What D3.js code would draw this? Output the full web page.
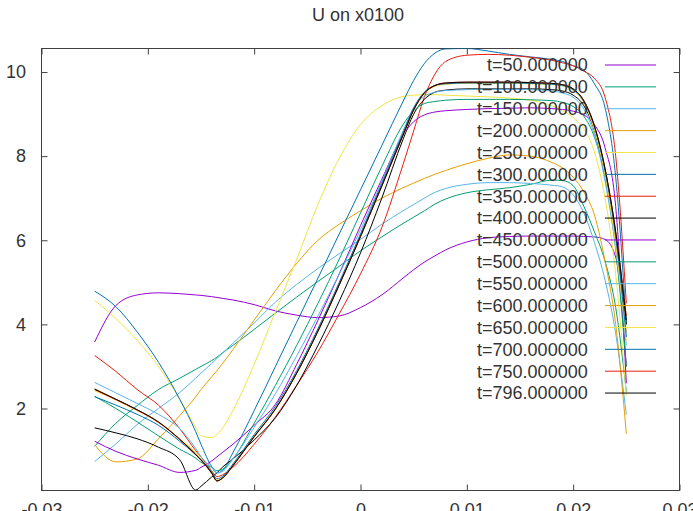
<!DOCTYPE html>
<html>
<head>
<meta charset="utf-8">
<script src="https://cdn.jsdelivr.net/npm/d3@7"></script>
<style>
  body { margin: 0; background: #fff; }
  svg { display: block; }
  text { font-family: "Liberation Sans", Arial, sans-serif; fill: #333; }
</style>
</head>
<body>
<svg id="chart" width="693" height="511"></svg>
<script>
// Sample positions across the channel (x) shared by every profile
const xs = [-0.025, -0.023, -0.021, -0.019, -0.017, -0.0155, -0.015, -0.014, -0.0135, -0.013,
            -0.012, -0.010, -0.008, -0.006, -0.004, -0.002, 0, 0.002, 0.004, 0.005,
            0.006, 0.007, 0.008, 0.010, 0.012, 0.014, 0.016, 0.018, 0.019, 0.020,
            0.021, 0.022, 0.023, 0.024, 0.025];

// U profiles at each output time
const u50  = [3.58, 4.45, 4.70, 4.75, 4.73, 4.70, 4.69, 4.66, 4.64, 4.62, 4.58, 4.47, 4.32, 4.22, 4.16, 4.20, 4.40, 4.70, 5.10, 5.30, 5.48, 5.63, 5.77, 5.96, 6.06, 6.09, 6.10, 6.10, 6.10, 6.10, 6.09, 6.08, 6.02, 5.60, 3.00];
const u100 = [1.10, 1.65, 2.07, 2.45, 2.72, 2.93, 3.00, 3.14, 3.22, 3.32, 3.50, 3.88, 4.27, 4.65, 5.02, 5.38, 5.75, 6.08, 6.40, 6.55, 6.70, 6.86, 6.98, 7.13, 7.20, 7.25, 7.33, 7.43, 7.42, 7.30, 6.81, 6.20, 5.50, 4.40, 2.40];
const u150 = [0.74, 1.16, 1.62, 2.00, 2.38, 2.72, 2.84, 3.07, 3.19, 3.31, 3.55, 4.03, 4.53, 4.95, 5.33, 5.68, 6.02, 6.38, 6.70, 6.85, 7.00, 7.14, 7.23, 7.33, 7.37, 7.37, 7.35, 7.31, 7.27, 7.08, 6.65, 5.95, 5.05, 3.78, 1.85];
const u200 = [1.14, 0.73, 0.80, 1.28, 1.83, 2.28, 2.45, 2.75, 2.90, 3.06, 3.40, 4.10, 4.80, 5.45, 6.00, 6.38, 6.70, 7.00, 7.25, 7.36, 7.47, 7.57, 7.66, 7.82, 7.95, 8.03, 8.00, 7.85, 7.72, 7.50, 7.15, 6.60, 5.50, 4.00, 1.40];
const u250 = [4.57, 4.14, 3.62, 3.00, 2.22, 1.55, 1.35, 1.31, 1.38, 1.52, 1.95, 3.05, 4.30, 5.55, 6.85, 7.95, 8.75, 9.20, 9.42, 9.45, 9.46, 9.46, 9.45, 9.43, 9.41, 9.38, 9.33, 9.20, 9.08, 8.92, 8.65, 8.10, 7.00, 5.20, 2.30];
const u300 = [4.79, 4.42, 3.82, 3.10, 2.22, 1.45, 1.15, 0.62, 0.47, 0.52, 0.95, 1.95, 3.00, 4.05, 5.10, 6.15, 7.20, 8.25, 9.30, 9.80, 10.20, 10.45, 10.55, 10.56, 10.50, 10.42, 10.36, 10.30, 10.25, 10.15, 10.05, 9.72, 9.15, 7.50, 4.00];
const u350 = [3.26, 2.88, 2.45, 2.08, 1.52, 1.00, 0.85, 0.52, 0.38, 0.42, 0.60, 1.15, 1.80, 2.55, 3.35, 4.25, 5.20, 6.30, 7.80, 8.60, 9.40, 9.95, 10.25, 10.40, 10.42, 10.40, 10.35, 10.28, 10.22, 10.15, 10.02, 9.85, 9.40, 8.00, 4.50];
const u400 = [1.54, 1.42, 1.28, 1.08, 0.78, 0.06, 0.15, 0.37, 0.47, 0.60, 0.80, 1.25, 1.78, 2.55, 3.50, 4.55, 5.70, 7.00, 8.40, 9.00, 9.35, 9.52, 9.57, 9.60, 9.60, 9.60, 9.60, 9.58, 9.55, 9.45, 9.20, 8.60, 7.50, 6.00, 4.00];
const u450 = [1.22, 0.98, 0.80, 0.65, 0.48, 0.53, 0.60, 0.75, 0.85, 0.95, 1.15, 1.60, 2.10, 3.05, 4.10, 5.20, 6.35, 7.45, 8.50, 8.82, 8.98, 9.05, 9.08, 9.11, 9.13, 9.14, 9.15, 9.13, 9.11, 9.07, 8.98, 8.75, 8.20, 6.80, 2.60];
const u500 = [2.29, 2.00, 1.68, 1.35, 1.03, 0.82, 0.72, 0.60, 0.52, 0.55, 0.80, 1.65, 2.55, 3.50, 4.50, 5.55, 6.65, 7.75, 8.75, 9.08, 9.25, 9.30, 9.33, 9.35, 9.35, 9.35, 9.34, 9.32, 9.28, 9.18, 8.95, 8.45, 7.50, 5.80, 3.00];
const u550 = [2.62, 2.37, 2.12, 1.86, 1.52, 1.05, 0.85, 0.60, 0.47, 0.50, 0.80, 1.55, 2.35, 3.25, 4.20, 5.20, 6.25, 7.40, 8.60, 9.15, 9.42, 9.52, 9.56, 9.58, 9.59, 9.59, 9.58, 9.55, 9.50, 9.40, 9.12, 8.50, 7.40, 5.80, 3.50];
const u600 = [2.47, 2.22, 1.97, 1.68, 1.27, 0.92, 0.78, 0.46, 0.27, 0.33, 0.63, 1.32, 1.98, 2.83, 3.83, 4.93, 6.08, 7.28, 8.50, 9.10, 9.50, 9.67, 9.72, 9.74, 9.74, 9.74, 9.73, 9.71, 9.68, 9.57, 9.28, 8.65, 7.60, 6.00, 3.80];
const u650 = [2.42, 2.20, 1.95, 1.67, 1.28, 0.95, 0.80, 0.50, 0.30, 0.35, 0.64, 1.34, 2.00, 2.86, 3.86, 4.96, 6.10, 7.30, 8.48, 9.08, 9.48, 9.66, 9.71, 9.73, 9.73, 9.73, 9.72, 9.70, 9.67, 9.56, 9.27, 8.62, 7.55, 5.90, 3.60];
const u700 = [2.28, 2.08, 1.86, 1.60, 1.22, 0.90, 0.78, 0.50, 0.33, 0.38, 0.68, 1.38, 2.05, 2.90, 3.90, 5.00, 6.15, 7.35, 8.55, 9.15, 9.52, 9.68, 9.72, 9.74, 9.74, 9.74, 9.73, 9.71, 9.68, 9.58, 9.30, 8.70, 7.65, 6.10, 3.70];
const u750 = [2.45, 2.21, 1.96, 1.67, 1.26, 0.90, 0.77, 0.46, 0.28, 0.34, 0.64, 1.33, 1.99, 2.84, 3.84, 4.94, 6.09, 7.29, 8.50, 9.10, 9.50, 9.68, 9.74, 9.76, 9.76, 9.76, 9.75, 9.73, 9.70, 9.60, 9.32, 8.72, 7.70, 6.20, 4.20];
const u796 = [2.46, 2.22, 1.97, 1.68, 1.27, 0.91, 0.78, 0.47, 0.28, 0.34, 0.64, 1.33, 1.99, 2.84, 3.84, 4.94, 6.09, 7.29, 8.50, 9.10, 9.50, 9.68, 9.74, 9.76, 9.76, 9.76, 9.75, 9.73, 9.70, 9.60, 9.32, 8.72, 7.70, 6.20, 4.10];

const seriesValues = [u50, u100, u150, u200, u250, u300, u350, u400, u450, u500, u550, u600, u650, u700, u750, u796];
const seriesLabels = ["t=50.000000", "t=100.000000", "t=150.000000", "t=200.000000",
                      "t=250.000000", "t=300.000000", "t=350.000000", "t=400.000000",
                      "t=450.000000", "t=500.000000", "t=550.000000", "t=600.000000",
                      "t=650.000000", "t=700.000000", "t=750.000000", "t=796.000000"];
// gnuplot's default line-type cycle
const lineColors = ["#9400d3", "#009e73", "#56b4e9", "#e69f00", "#f0e442", "#0072b2", "#e51e10", "#000000"];

const xTicks = [-0.03, -0.02, -0.01, 0, 0.01, 0.02, 0.03];
const xTickLabels = ["-0.03", "-0.02", "-0.01", "0", "0.01", "0.02", "0.03"];
const yTicks = [2, 4, 6, 8, 10];
const yTickLabels = ["2", "4", "6", "8", "10"];
const titleText = "U on x0100";

// ---- layout ----
const plot = { left: 41.5, right: 679.5, top: 48.5, bottom: 490.5 };
const fontSize = 18;

const svg = d3.select("#chart");

const x = d3.scaleLinear().domain([-0.03, 0.03]).range([plot.left, plot.right]);
const y = d3.scaleLinear().domain([0.05, 10.56]).range([plot.bottom, plot.top]);

// clip curves to the plotting frame
svg.append("defs").append("clipPath").attr("id", "frame")
  .append("rect")
  .attr("x", plot.left).attr("y", plot.top)
  .attr("width", plot.right - plot.left).attr("height", plot.bottom - plot.top);

// title
svg.append("text")
  .attr("x", 358).attr("y", 21)
  .attr("text-anchor", "middle")
  .style("font-size", fontSize + "px")
  .text(titleText);

// axes: inward ticks, mirrored on top and right
const tickLen = 6;
const axisColor = "#404040";

function styleAxis(g) {
  g.select(".domain").remove();
  g.selectAll(".tick line").attr("stroke", axisColor);
  g.selectAll(".tick text").style("font-size", fontSize + "px").attr("fill", "#333");
}

svg.append("g").attr("transform", `translate(0,${plot.bottom})`)
  .call(d3.axisBottom(x).tickValues(xTicks).tickSize(-tickLen).tickPadding(12.5)
        .tickFormat((d, i) => xTickLabels[i]))
  .call(styleAxis);

svg.append("g").attr("transform", `translate(0,${plot.top})`)
  .call(d3.axisTop(x).tickValues(xTicks).tickSize(-tickLen).tickFormat(""))
  .call(styleAxis);

svg.append("g").attr("transform", `translate(${plot.left},0)`)
  .call(d3.axisLeft(y).tickValues(yTicks).tickSize(-tickLen).tickPadding(15.5)
        .tickFormat((d, i) => yTickLabels[i]))
  .call(styleAxis);

svg.append("g").attr("transform", `translate(${plot.right},0)`)
  .call(d3.axisRight(y).tickValues(yTicks).tickSize(-tickLen).tickFormat(""))
  .call(styleAxis);

// frame
svg.append("rect")
  .attr("x", plot.left).attr("y", plot.top)
  .attr("width", plot.right - plot.left).attr("height", plot.bottom - plot.top)
  .attr("fill", "none").attr("stroke", axisColor).attr("stroke-width", 1);

// profiles
const line = d3.line()
  .x((d, i) => x(xs[i]))
  .y(d => y(d))
  .curve(d3.curveMonotoneX);

const curves = svg.append("g").attr("clip-path", "url(#frame)");
seriesValues.forEach((vals, k) => {
  curves.append("path")
    .attr("d", line(vals))
    .attr("fill", "none")
    .attr("stroke", lineColors[k % lineColors.length])
    .attr("stroke-width", 1);
});

// key, top right inside the frame
const keyTop = 65, keyStep = 21.87;
const keyTextRight = 587.7, keySampleX0 = 605, keySampleX1 = 656;
const key = svg.append("g");
seriesLabels.forEach((lab, k) => {
  const ky = keyTop + k * keyStep;
  key.append("text")
    .attr("x", keyTextRight).attr("y", ky + 6.4)
    .attr("text-anchor", "end")
    .style("font-size", fontSize + "px")
    .text(lab);
  key.append("line")
    .attr("x1", keySampleX0).attr("x2", keySampleX1)
    .attr("y1", ky).attr("y2", ky)
    .attr("stroke", lineColors[k % lineColors.length])
    .attr("stroke-width", 1);
});
</script>
</body>
</html>
